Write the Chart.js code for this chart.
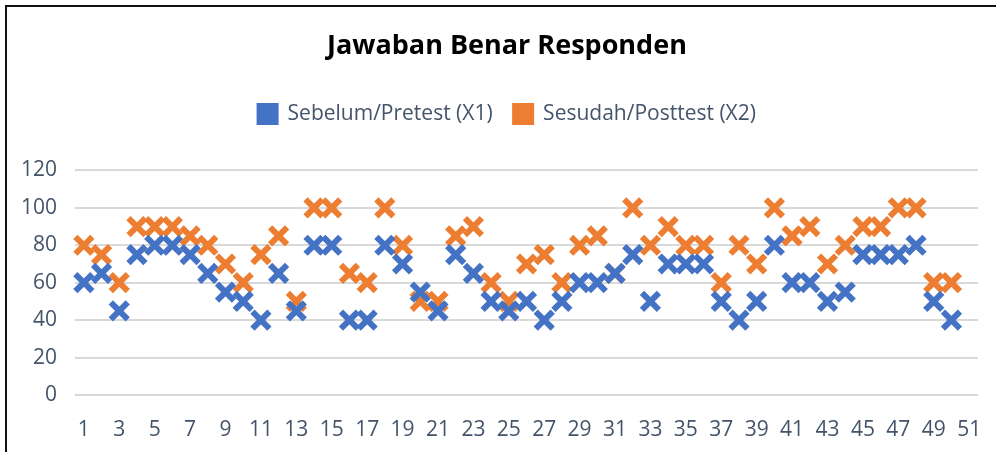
<!DOCTYPE html>
<html>
<head>
<meta charset="utf-8">
<script src="https://cdn.jsdelivr.net/npm/chart.js@4/dist/chart.umd.min.js"></script>
<style>
  html, body { margin: 0; padding: 0; background: #fff; }
  #wrap { width: 996px; height: 452px; position: relative; }
</style>
</head>
<body>
<div id="wrap"><canvas id="myChart" width="996" height="452"></canvas></div>
<script>
// data
const categories = [];
for (let i = 1; i <= 51; i++) categories.push(String(i));

const pretest = [60, 65, 45, 75, 80, 80, 75, 65, 55, 50,
                 40, 65, 45, 80, 80, 40, 40, 80, 70, 55,
                 45, 75, 65, 50, 45, 50, 40, 50, 60, 60,
                 65, 75, 50, 70, 70, 70, 50, 40, 50, 80,
                 60, 60, 50, 55, 75, 75, 75, 80, 50, 40];

const posttest = [80, 75, 60, 90, 90, 90, 85, 80, 70, 60,
                  75, 85, 50, 100, 100, 65, 60, 100, 80, 50,
                  50, 85, 90, 60, 50, 70, 75, 60, 80, 85,
                  65, 100, 80, 90, 80, 80, 60, 80, 70, 100,
                  85, 90, 70, 80, 90, 90, 100, 100, 60, 60];

const yTicks = [0, 20, 40, 60, 80, 100, 120];

const blue = '#4472C4';
const orange = '#ED7D31';
const textGray = '#44546A';

// outer frame of the chart box
const framePlugin = {
    id: 'frame',
    beforeDraw(chart) {
        let ctx = chart.ctx;
        ctx.save();
        ctx.fillStyle = '#fff';
        ctx.fillRect(0, 0, chart.width, chart.height);
        ctx.strokeStyle = '#111';
        ctx.lineWidth = 2;
        ctx.beginPath();
        ctx.moveTo(6, chart.height);
        ctx.lineTo(6, 6);
        ctx.lineTo(chart.width, 6);
        ctx.stroke();
        ctx.restore();
    }
};

// more room between legend and plot area
const legendGapPlugin = {
    id: 'legendGap',
    beforeInit(chart) {
        let origFit = chart.legend.fit;
        chart.legend.fit = function() {
            origFit.bind(chart.legend)();
            this.height += 36;
        };
    }
};

let ctx = document.getElementById('myChart').getContext('2d');

new Chart(ctx, {
    type: 'line',
    data: {
        labels: categories,
        datasets: [{
            label: 'Sebelum/Pretest (X1)',
            data: pretest,
            showLine: false,
            pointStyle: 'crossRot',
            pointRadius: 12,
            pointHoverRadius: 12,
            pointBorderWidth: 6,
            borderColor: blue,
            backgroundColor: blue
        }, {
            label: 'Sesudah/Posttest (X2)',
            data: posttest,
            showLine: false,
            pointStyle: 'crossRot',
            pointRadius: 12,
            pointHoverRadius: 12,
            pointBorderWidth: 6,
            borderColor: orange,
            backgroundColor: orange
        }]
    },
    options: {
        responsive: false,
        animation: false,
        layout: { padding: { left: 18, right: 0, top: 0, bottom: 10 } },
        plugins: {
            title: {
                display: true,
                text: 'Jawaban Benar Responden',
                color: '#000',
                font: { family: 'Open Sans', size: 27, weight: 'bold' },
                padding: { top: 30, bottom: 20 }
            },
            legend: {
                display: true,
                labels: {
                    color: textGray,
                    font: { family: 'Open Sans', size: 21 },
                    boxWidth: 19,
                    boxHeight: 19,
                    padding: 21
                }
            },
            tooltip: { enabled: false }
        },
        scales: {
            x: {
                offset: true,
                grid: { display: false, drawTicks: false },
                border: { display: false },
                afterFit: function(axis) {
                    axis.height = 47;
                    axis.paddingLeft = 0;
                    axis.paddingRight = 0;
                },
                ticks: {
                    autoSkip: false,
                    maxRotation: 0,
                    color: textGray,
                    font: { family: 'Open Sans', size: 21 },
                    padding: 22,
                    callback: function(value, index) {
                        return index % 2 === 0 ? categories[index] : '';
                    }
                }
            },
            y: {
                min: 0,
                max: 120,
                grid: { color: '#D9D9D9', lineWidth: 2, drawTicks: false },
                border: { display: false },
                afterBuildTicks: function(axis) {
                    axis.ticks = yTicks.map(v => ({ value: v }));
                },
                afterFit: function(axis) {
                    axis.width = 57;
                },
                ticks: {
                    color: textGray,
                    font: { family: 'Open Sans', size: 21 },
                    padding: 18
                }
            },
            yRight: {
                position: 'right',
                display: true,
                grid: { display: false, drawTicks: false },
                border: { display: false },
                ticks: { display: false },
                afterFit: function(axis) {
                    axis.width = 17;
                }
            }
        }
    },
    plugins: [framePlugin, legendGapPlugin]
});
</script>
</body>
</html>
